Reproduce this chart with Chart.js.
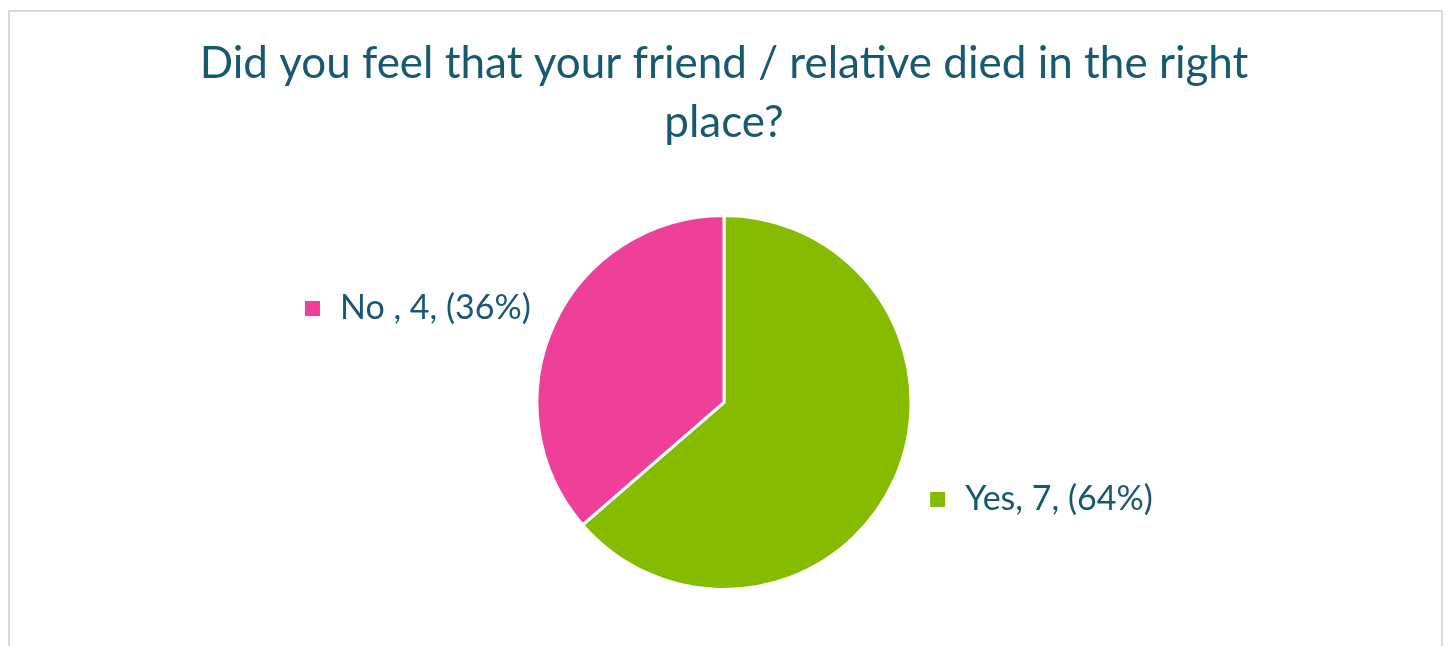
<!DOCTYPE html>
<html>
<head>
<meta charset="utf-8">
<script src="https://cdn.jsdelivr.net/npm/chart.js@4"></script>
<style>
    html, body { margin: 0; padding: 0; background: #fff; overflow: hidden; }
    #frame {
        position: absolute; left: 8px; top: 10px;
        width: 1431px; height: 700px;
        border: 2px solid #d9d9d9;
    }
    #wrap { position: absolute; left: 0; top: 0; width: 1448px; height: 646px; }
</style>
</head>
<body>
<div id="frame"></div>
<div id="wrap"><canvas id="placeChart" width="1448" height="646"></canvas></div>
<script>
// Chart data
const labels = ['Yes', 'No '];
const counts = [7, 4];
const percents = [64, 36];
const sliceColors = ['#86bc00', '#ee4099'];
const titleLines = ['Did you feel that your friend / relative died in the right', 'place?'];

const textColor = '#17596f';

// Draws the "Label, n, (p%)" callouts next to each slice
const sliceLabels = {
    id: 'sliceLabels',
    afterDatasetsDraw(chart) {
        const ctx = chart.ctx;
        const meta = chart.getDatasetMeta(0);
        ctx.save();
        ctx.font = '34px Lato';
        ctx.textBaseline = 'middle';
        meta.data.forEach((arc, i) => {
            const p = arc.getProps(['x', 'y', 'startAngle', 'endAngle', 'outerRadius']);
            const mid = (p.startAngle + p.endAngle) / 2;
            const ax = p.x + Math.cos(mid) * p.outerRadius * 1.1;
            const ay = p.y + Math.sin(mid) * p.outerRadius * 1.1;
            const text = labels[i] + ', ' + counts[i] + ', (' + percents[i] + '%)';
            const w = ctx.measureText(text).width;
            let sx, ty;
            if (Math.cos(mid) < 0) {
                ty = ay - 9;
                sx = ax - 6 - w - 35;
            } else {
                ty = ay + 11;
                sx = ax + 19;
            }
            ctx.fillStyle = sliceColors[i];
            ctx.fillRect(sx, ty - 7, 15, 15);
            ctx.fillStyle = textColor;
            ctx.textAlign = 'left';
            ctx.fillText(text, sx + 35, ty);
        });
        ctx.restore();
    }
};

new Chart(document.getElementById('placeChart'), {
    type: 'pie',
    data: {
        labels: labels,
        datasets: [{
            data: counts,
            backgroundColor: sliceColors,
            borderColor: '#ffffff',
            borderWidth: 3
        }]
    },
    options: {
        responsive: false,
        animation: false,
        events: [],
        layout: { padding: { top: 0, bottom: 55, left: 0, right: 0 } },
        plugins: {
            legend: { display: false },
            tooltip: { enabled: false },
            title: {
                display: true,
                text: titleLines,
                color: textColor,
                font: { family: 'Lato', size: 44, weight: 'normal', lineHeight: 1.34 },
                padding: { top: 34, bottom: 62 }
            }
        }
    },
    plugins: [sliceLabels]
});
</script>
</body>
</html>
